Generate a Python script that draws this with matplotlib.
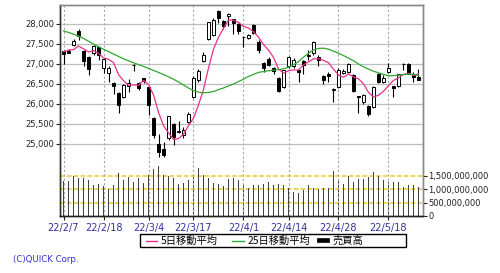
import matplotlib
matplotlib.use("Agg")
import matplotlib.pyplot as plt
import numpy as np
from matplotlib.patches import Rectangle
from matplotlib.lines import Line2D
from matplotlib.ticker import FuncFormatter

dates = ["22/2/7", "22/2/8", "22/2/9", "22/2/10", "22/2/14", "22/2/15", "22/2/16", "22/2/17",
         "22/2/18", "22/2/21", "22/2/22", "22/2/24", "22/2/25", "22/2/28",
         "22/3/1", "22/3/2", "22/3/3", "22/3/4", "22/3/7", "22/3/8", "22/3/9", "22/3/10",
         "22/3/11", "22/3/14", "22/3/15", "22/3/16", "22/3/17", "22/3/18", "22/3/22",
         "22/3/23", "22/3/24", "22/3/25", "22/3/28", "22/3/29", "22/3/30", "22/3/31",
         "22/4/1", "22/4/4", "22/4/5", "22/4/6", "22/4/7", "22/4/8", "22/4/11", "22/4/12",
         "22/4/13", "22/4/14", "22/4/15", "22/4/18", "22/4/19", "22/4/20", "22/4/21",
         "22/4/22", "22/4/25", "22/4/26", "22/4/27", "22/4/28",
         "22/5/2", "22/5/6", "22/5/9", "22/5/10", "22/5/11", "22/5/12", "22/5/13",
         "22/5/16", "22/5/17", "22/5/18", "22/5/19", "22/5/20", "22/5/23", "22/5/24",
         "22/5/25", "22/5/26"]
tick_dates = ["22/2/7", "22/2/18", "22/3/4", "22/3/17", "22/4/1", "22/4/14", "22/4/28", "22/5/18"]

opens = [27330, 27330, 27480, 27830, 27330, 27180, 27270, 27420, 26890, 26780,
         26530, 26270, 26180, 26460, 26985, 26520, 26640, 26420, 25650, 25000,
         24880, 25140, 25500, 25330, 25230, 25560, 26180, 26600, 27080, 27620,
         27730, 28330, 28080, 28195, 28120, 28010, 27680, 27650, 27980, 27560,
         27030, 27120, 26890, 26640, 26420, 26940, 26950, 26860, 27080, 27190,
         27270, 27180, 26700, 26750, 26340, 26420, 26770, 26810, 26720, 26190,
         26060, 25950, 25920, 26750, 26545, 26810, 26440, 26450, 26990, 27000,
         26725, 26680]
highs = [27360, 27380, 27625, 27870, 27350, 27200, 27480, 27450, 27140, 26950,
         26550, 26300, 26500, 26620, 27010, 26540, 26660, 26450, 25670, 25250,
         25050, 25700, 25530, 25580, 25420, 25790, 26700, 26880, 27290, 28050,
         28140, 28340, 28110, 28280, 28130, 28020, 27690, 27750, 28010, 27600,
         27060, 27170, 26930, 26680, 26860, 27210, 27150, 26870, 27100, 27350,
         27580, 27230, 26720, 26790, 26400, 26900, 26880, 27030, 26740, 26200,
         26240, 25975, 26450, 26780, 26720, 27030, 26450, 26760, 27030, 27020,
         26810, 26870]
lows = [26990, 27270, 27440, 27590, 26950, 26730, 27220, 27100, 26780, 26540,
        26250, 25770, 26160, 26310, 26835, 26350, 26520, 25720, 25140, 24680,
        24680, 25100, 24980, 25280, 25150, 25530, 26150, 26560, 27050, 27600,
        27700, 28030, 27880, 27940, 27750, 27760, 27430, 27620, 27760, 27280,
        26810, 26950, 26750, 26310, 26400, 26900, 26900, 26560, 26760, 27100,
        27220, 26950, 26490, 26560, 26060, 26400, 26740, 26780, 26300, 25770,
        26000, 25710, 25900, 26530, 26520, 26780, 26180, 26430, 26850, 26740,
        26560, 26590]
closes = [27248, 27284, 27579, 27696, 27079, 26865, 27460, 27232, 27122, 26910,
          26449, 25970, 26476, 26526, 26965, 26393, 26577, 25985, 25221, 24790,
          24717, 25690, 25163, 25307, 25346, 25762, 26652, 26827, 27224, 28040,
          28110, 28149, 27943, 28252, 28027, 27821, 27666, 27736, 27787, 27350,
          26888, 26985, 26821, 26334, 26843, 27172, 27093, 26799, 26985, 27217,
          27553, 27105, 26590, 26700, 26386, 26847, 26818, 27003, 26319, 26167,
          26213, 25748, 26427, 26547, 26659, 26911, 26402, 26739, 27001, 26748,
          26677, 26604]
# closes of the four sessions before the first candle (for the 5-day average)
pre_closes = [27078, 27533, 27241, 27440]
ma25 = [27825, 27790, 27745, 27700, 27640, 27570, 27500, 27430, 27370, 27310,
        27250, 27190, 27130, 27080, 27030, 26985, 26940, 26890, 26840, 26790,
        26735, 26680, 26620, 26550, 26475, 26400, 26335, 26295, 26280, 26290,
        26310, 26360, 26400, 26450, 26500, 26560, 26620, 26690, 26740, 26790,
        26810, 26830, 26845, 26860, 26880, 26920, 26980, 27060, 27170, 27270,
        27350, 27390, 27395, 27370, 27320, 27270, 27210, 27150, 27080, 27000,
        26930, 26870, 26820, 26780, 26740, 26705, 26710, 26720, 26735, 26750,
        26740, 26710]
volume_bn = [1.31, 1.30, 1.49, 1.40, 1.40, 1.33, 1.17, 1.20, 1.12, 0.99,
             1.14, 1.61, 1.33, 1.46, 1.27, 1.42, 1.23, 1.53, 1.74, 1.87,
             1.51, 1.49, 1.43, 1.20, 1.23, 1.33, 1.46, 1.80, 1.52, 1.43,
             1.23, 1.20, 1.13, 1.38, 1.40, 1.33, 1.19, 1.03, 1.15, 1.16,
             1.19, 1.25, 1.14, 1.18, 1.15, 1.03, 0.90, 0.86, 0.96, 1.15,
             1.03, 1.01, 1.03, 1.03, 1.66, 1.39, 1.19, 1.49, 1.28, 1.36,
             1.36, 1.46, 1.62, 1.49, 1.33, 1.27, 1.27, 1.25, 1.09, 1.14,
             1.15, 1.09]
price_ticks = [25000, 25500, 26000, 26500, 27000, 27500, 28000]
volume_ticks = [0, 500000000, 1000000000, 1500000000]
legend_labels = ["5日移動平均", "25日移動平均", "売買高"]

PINK = "#e6318c"
GREEN = "#2fa82f"
BLUE = "#333399"
CJK = ["Noto Sans CJK JP", "DejaVu Sans"]

x = np.arange(len(dates))
o = np.array(opens, float); h = np.array(highs, float)
l = np.array(lows, float); c = np.array(closes, float)
allc = np.concatenate([pre_closes, closes])
ma5 = np.convolve(allc, np.ones(5) / 5, mode="valid")
vol = np.array(volume_bn) * 1e9

fig = plt.figure(figsize=(5.0, 2.73), dpi=100)
fig.patch.set_facecolor("white")
ax = fig.add_axes([0.12, 0.2088, 0.726, 0.7729])
ax2 = ax.twinx()
ax.set_zorder(2)
ax.patch.set_visible(False)
ax2.set_zorder(1)

# volume
ax2.bar(x, vol, width=0.26, color="#404040", zorder=3)
ax2.set_ylim(0, 7.85e9)
ax2.set_yticks(volume_ticks)
ax2.yaxis.set_major_formatter(FuncFormatter(lambda v, p: f"{int(v):,}"))
for v in volume_ticks[1:]:
    ax2.axhline(v, color="#e8cc20", lw=1.1, ls=(0, (3, 1.5)), zorder=2)
ax2.tick_params(axis="y", labelsize=6, length=3, pad=1, colors="#222222")

# price grid
for p in price_ticks:
    ax.axhline(p, color="#bdbdbd", lw=0.9, zorder=0)

# candles
w = 0.6
for i in range(len(x)):
    ax.vlines(x[i], l[i], h[i], color="black", lw=0.8, zorder=3)
    lo, hi = min(o[i], c[i]), max(o[i], c[i])
    fc = "white" if c[i] >= o[i] else "black"
    ax.add_patch(Rectangle((x[i] - w / 2, lo), w, max(hi - lo, 8), facecolor=fc,
                           edgecolor="black", lw=0.7, zorder=4))

ax.plot(x, ma5, color=PINK, lw=0.9, zorder=5)
ax.plot(x, ma25, color=GREEN, lw=0.9, zorder=5)

ax.set_xlim(-0.7, 71.9)
ax.set_ylim(23200, 28475)
ax.set_yticks(price_ticks)
ax.yaxis.set_major_formatter(FuncFormatter(lambda v, p: f"{int(v):,}"))
ax.tick_params(axis="y", labelsize=6, length=3, pad=1, colors="#222222")
tick_pos = [dates.index(d) for d in tick_dates]
ax.set_xticks(tick_pos)
ax.set_xticklabels(tick_dates)
ax.tick_params(axis="x", labelsize=7, length=3, pad=2, colors="#222222", labelcolor=BLUE)
for tp in tick_pos:
    ax.axvline(tp, color="#a8a8a8", lw=0.8, ls=(0, (2, 2)), zorder=0)

for a in (ax, ax2):
    a.spines["left"].set_color("#333333")
    a.spines["bottom"].set_color("#222222")
    a.spines["top"].set_color("#888888")
    a.spines["right"].set_color("#888888")
    for s in a.spines.values():
        s.set_linewidth(1.0)

# legend box (drawn in figure pixels)
def fx(px):
    return px / 500.0

def fy(py):
    return 1 - py / 273.0

fig.add_artist(Rectangle((fx(140), fy(247)), fx(406.5) - fx(140), fy(234) - fy(247),
                         transform=fig.transFigure, facecolor="white", edgecolor="black", lw=1.0))
yc = fy(240.5)
fig.add_artist(Line2D([fx(146), fx(157)], [yc, yc], transform=fig.transFigure, color=PINK, lw=1))
fig.text(fx(161), yc, legend_labels[0], fontsize=7.4, family=CJK, va="center", ha="left")
fig.add_artist(Line2D([fx(232), fx(244)], [yc, yc], transform=fig.transFigure, color=GREEN, lw=1))
fig.text(fx(248), yc, legend_labels[1], fontsize=7.4, family=CJK, va="center", ha="left")
fig.add_artist(Rectangle((fx(317), fy(242)), fx(329) - fx(317), fy(237.5) - fy(242),
                         transform=fig.transFigure, facecolor="black", edgecolor="black", lw=0.5))
fig.text(fx(333), yc, legend_labels[2], fontsize=7.4, family=CJK, va="center", ha="left")

fig.text(fx(13), fy(259), "(C)QUICK Corp.", fontsize=6.2, color="#3333cc", va="center", ha="left")

fig.savefig("out.png", dpi=100, facecolor="white")
